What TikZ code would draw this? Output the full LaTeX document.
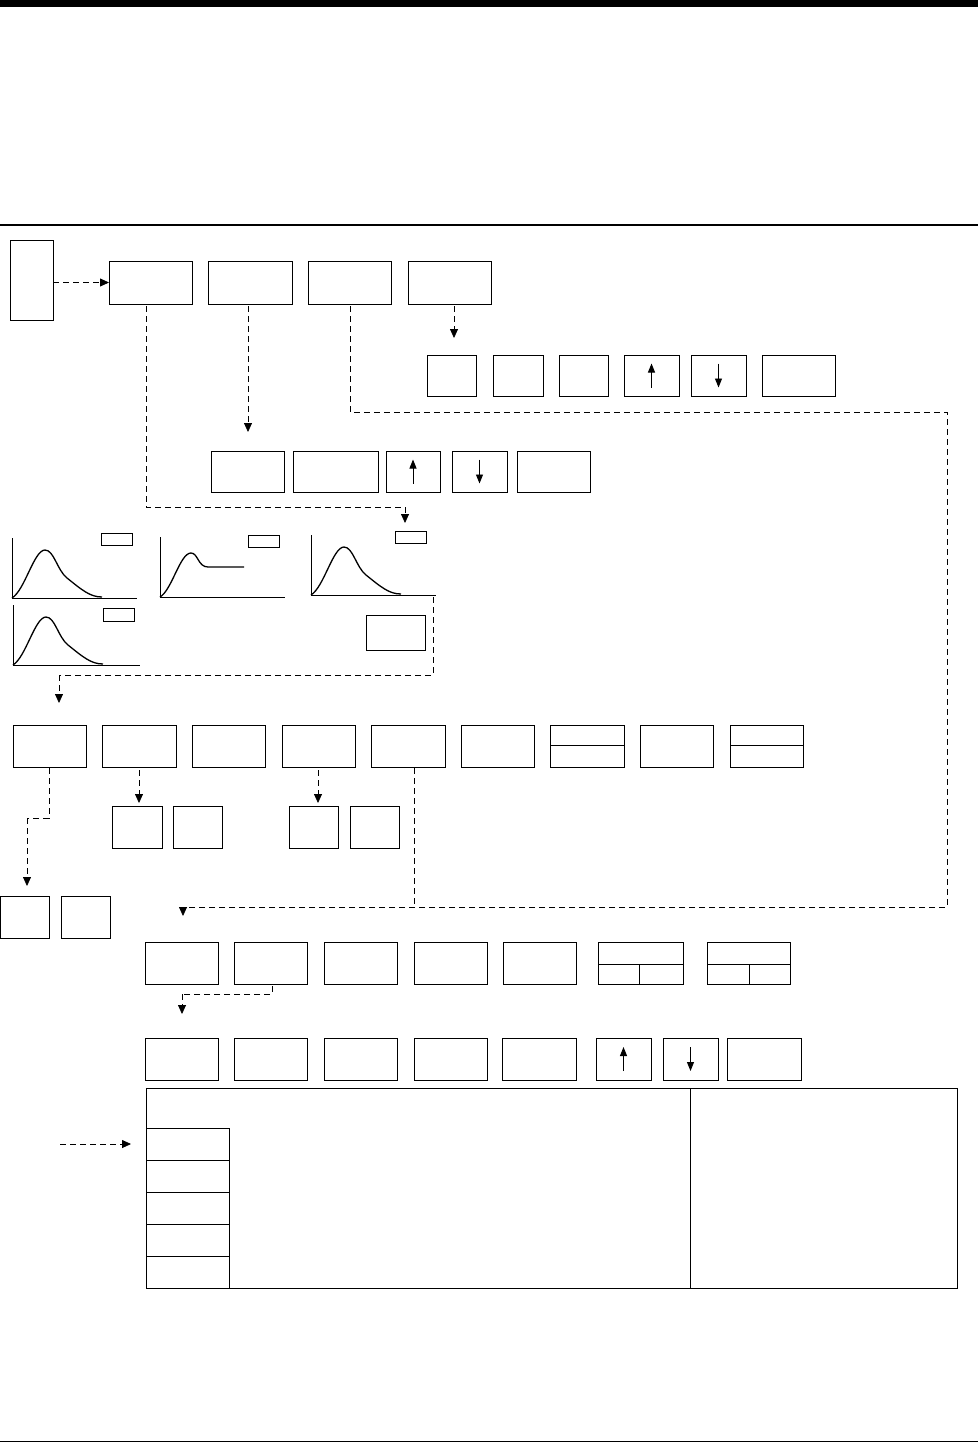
\documentclass[tikz,border=0pt]{standalone}
\usetikzlibrary{arrows.meta,calc}
\newcommand{\bx}[5]{\node[bx,anchor=north west,minimum width={#4pt-#2pt},minimum height={#5pt-#3pt}] (#1) at (#2,#3) {};}
\newcommand{\pkcurve}[3]{%
 \draw[thinl] (#1,#2-60) -- (#1,#2) -- (#1+#3,#2);
 \draw[line width=1.3pt] (#1,#2) .. controls (#1+13,#2-8) and (#1+22,#2-48) .. (#1+33,#2-48) .. controls (#1+42,#2-48) and (#1+45,#2-28) .. (#1+55,#2-20) .. controls (#1+70,#2-8) and (#1+78,#2-1) .. (#1+90,#2-1);}
\tikzset{
 bx/.style={draw,line width=0.9pt,inner sep=0pt,outer sep=0pt},
 dsh/.style={line width=0.8pt,dash pattern=on 6pt off 4pt},
 tip/.style={-{Triangle[length=9pt,width=8pt]}},
 thinl/.style={line width=0.9pt},
}
\begin{document}
\begin{tikzpicture}[x=1pt,y=-1pt]
\useasboundingbox (0,0) rectangle (978,1445);
\fill (0,0) rectangle (978,7);
\draw[line width=1.4pt] (0,225) -- (978,225);
\draw[line width=0.8pt] (0,1441) -- (978,1441);
% top row
\bx{t0}{10}{240}{53}{320}
\bx{a1}{109}{261}{192}{304}
\bx{a2}{208}{261}{292}{304}
\bx{a3}{308}{261}{391}{304}
\bx{a4}{408}{261}{491}{304}
\draw[dsh,tip] (t0.east |- a1.west) -- (a1.west);
% row 2
\bx{b1}{427}{355}{476}{396}
\bx{b2}{493}{355}{543}{396}
\bx{b3}{559}{355}{608}{396}
\bx{b4}{624}{355}{679}{396}
\bx{b5}{691}{355}{746}{396}
\bx{b6}{762}{355}{835}{396}
\draw[dsh,tip] (454,306) -- (454,338);
% row 3
\bx{c1}{211}{451}{284}{492}
\bx{c2}{293}{451}{378}{492}
\bx{c3}{386}{451}{440}{492}
\bx{c4}{452}{451}{507}{492}
\bx{c5}{517}{451}{590}{492}
\draw[dsh,tip] (248,306) -- (248,432);
% arrows in boxes
\foreach \n in {b4,c3}{\draw[thinl,-{Triangle[length=9pt,width=7pt]}] ($(\n.center)+(0,12)$) -- ($(\n.center)+(0,-12)$);}
\foreach \n in {b5,c4}{\draw[thinl,-{Triangle[length=9pt,width=7pt]}] ($(\n.center)+(0,-12)$) -- ($(\n.center)+(0,12)$);}
% graphs
\coordinate (j1) at (146,507); \coordinate (j2) at (405,507);
\draw[dsh] (146,306) -- (j1) -- (j2);
\draw[dsh,tip] (j2) -- (405,523);
\pkcurve{12}{598}{125}
\pkcurve{311}{595}{125}
\pkcurve{13}{665}{127}
\draw[thinl] (160,537) -- (160,597) -- (285,597);
\draw[line width=1.3pt] (160,597) .. controls (172,590) and (180,553) .. (191,553) .. controls (198,553) and (198,567) .. (208,567) -- (244,567);
\bx{s1}{101}{533}{132}{545}
\bx{s2}{248}{535}{279}{547}
\bx{s3}{395}{531}{426}{543}
\bx{s4}{103}{608}{134}{621}
\bx{g5}{366}{615}{425}{650}
\coordinate (k1) at (433,675); \coordinate (k2) at (59,675);
\draw[dsh] (433,597) -- (k1) -- (k2);
\draw[dsh,tip] (k2) -- (59,703);
% row 4
\bx{d1}{13}{725}{86}{767}
\bx{d2}{102}{725}{176}{767}
\bx{d3}{192}{725}{265}{767}
\bx{d4}{282}{725}{355}{767}
\bx{d5}{371}{725}{445}{767}
\bx{d6}{461}{725}{534}{767}
\bx{d7}{550}{725}{624}{767}
\bx{d8}{640}{725}{713}{767}
\bx{d9}{730}{725}{803}{767}
\draw[thinl] (550,745) -- (624,745);
\draw[thinl] (730,745) -- (803,745);
\coordinate (m1) at (49,818); \coordinate (m2) at (27,818);
\draw[dsh] (49,768) -- (m1) -- (m2);
\draw[dsh,tip] (m2) -- (27,886);
\draw[dsh,tip] (139,770) -- (139,803);
\draw[dsh,tip] (318,770) -- (318,803);
\bx{e1}{112}{806}{162}{848}
\bx{e2}{173}{806}{222}{848}
\bx{e3}{289}{806}{338}{848}
\bx{e4}{350}{806}{399}{848}
\bx{f1}{0}{896}{49}{938}
\bx{f2}{61}{896}{110}{938}
% long dashed route
\coordinate (p1) at (350,412); \coordinate (p2) at (947,412);
\coordinate (p3) at (947,907); \coordinate (p4) at (183,907);
\draw[dsh] (350,306) -- (p1) -- (p2) -- (p3) -- (p4);
\draw[dsh,tip] (p4) -- (183,916);
\draw[dsh] (414,768) -- (414,907);
% row 5
\bx{h1}{145}{942}{218}{984}
\bx{h2}{234}{942}{307}{984}
\bx{h3}{324}{942}{397}{984}
\bx{h4}{414}{942}{487}{984}
\bx{h5}{503}{942}{576}{984}
\bx{h6}{598}{942}{683}{984}
\bx{h7}{707}{942}{790}{984}
\draw[thinl] (598,964) -- (683,964) (639,964) -- (639,984);
\draw[thinl] (707,964) -- (790,964) (749,964) -- (749,984);
\coordinate (q1) at (272,994); \coordinate (q2) at (182,994);
\draw[dsh] (272,986) -- (q1) -- (q2);
\draw[dsh,tip] (q2) -- (182,1014);
% row 6
\bx{i1}{145}{1038}{218}{1080}
\bx{i2}{234}{1038}{307}{1080}
\bx{i3}{324}{1038}{397}{1080}
\bx{i4}{414}{1038}{487}{1080}
\bx{i5}{502}{1038}{576}{1080}
\bx{i6}{596}{1038}{651}{1080}
\bx{i7}{663}{1038}{718}{1080}
\bx{i8}{727}{1038}{801}{1080}
\draw[thinl,-{Triangle[length=9pt,width=7pt]}] ($(i6.center)+(0,12)$) -- ($(i6.center)+(0,-12)$);
\draw[thinl,-{Triangle[length=9pt,width=7pt]}] ($(i7.center)+(0,-12)$) -- ($(i7.center)+(0,12)$);
% table
\bx{T}{146}{1088}{957}{1288}
\draw[thinl] (690,1088) -- (690,1288);
\bx{r1}{146}{1128}{229}{1160}
\bx{r2}{146}{1160}{229}{1192}
\bx{r3}{146}{1192}{229}{1224}
\bx{r4}{146}{1224}{229}{1256}
\bx{r5}{146}{1256}{229}{1288}
\coordinate (w0) at (60,1144);
\draw[dsh,tip] (w0) -- (131,1144);
\end{tikzpicture}
\end{document}
